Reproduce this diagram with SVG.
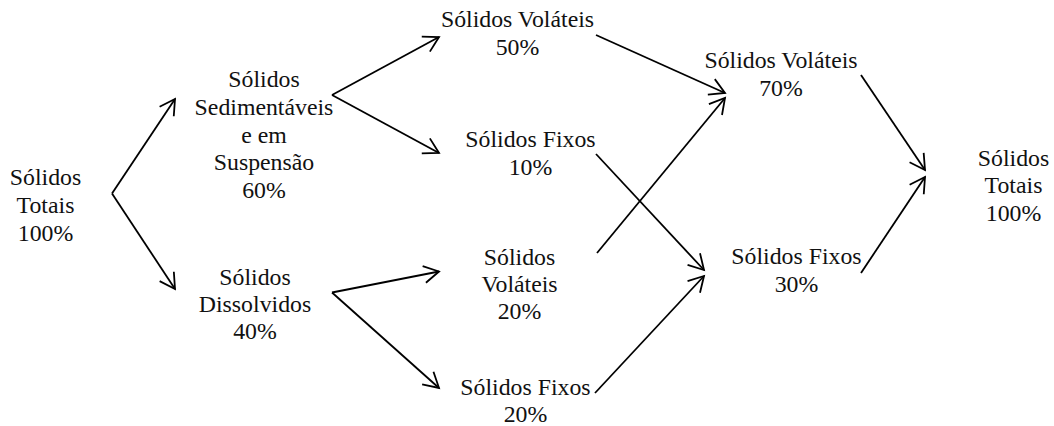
<svg xmlns="http://www.w3.org/2000/svg" width="1054" height="426" viewBox="0 0 1054 426">
<style>
.t text{font-size:23.8px;fill:#111;text-anchor:middle}
.c line{stroke:#000;stroke-width:1.8;fill:none}
</style>
<defs>
<marker id="ah" markerUnits="userSpaceOnUse" markerWidth="40" markerHeight="40" refX="0" refY="0" viewBox="-20 -20 40 40" orient="auto" overflow="visible">
<path d="M-15,-8.5 L0,0 L-15,8.5" fill="none" stroke="#000" stroke-width="1.8" stroke-linejoin="miter"/>
</marker>
</defs>
<rect width="1054" height="426" fill="#fff"/>
<g class="t" font-family="Liberation Serif">
<g id="n-totais-l"><text x="45.5" y="185">Sólidos</text><text x="45.5" y="213">Totais</text><text x="45.5" y="240.5">100%</text></g>
<g id="n-sed"><text x="264" y="87">Sólidos</text><text x="264" y="115">Sedimentáveis</text><text x="264" y="142.5">e em</text><text x="264" y="170">Suspensão</text><text x="264" y="197.5">60%</text></g>
<g id="n-dis"><text x="255" y="285">Sólidos</text><text x="255" y="312">Dissolvidos</text><text x="255" y="339">40%</text></g>
<g id="n-vol50"><text x="517.5" y="27">Sólidos Voláteis</text><text x="517.5" y="55">50%</text></g>
<g id="n-fix10"><text x="530.5" y="147">Sólidos Fixos</text><text x="530.5" y="175">10%</text></g>
<g id="n-vol20"><text x="519.5" y="265">Sólidos</text><text x="519.5" y="292">Voláteis</text><text x="519.5" y="319">20%</text></g>
<g id="n-fix20"><text x="525.5" y="395">Sólidos Fixos</text><text x="525.5" y="422">20%</text></g>
<g id="n-vol70"><text x="781" y="68">Sólidos Voláteis</text><text x="781" y="95.5">70%</text></g>
<g id="n-fix30"><text x="796.5" y="264">Sólidos Fixos</text><text x="796.5" y="292">30%</text></g>
<g id="n-totais-r"><text x="1013.5" y="166">Sólidos</text><text x="1013.5" y="193">Totais</text><text x="1013.5" y="220.5">100%</text></g>
</g>
<g id="connectors" class="c">
<line x1="112" y1="193.5" x2="175" y2="99" marker-end="url(#ah)"/>
<line x1="112" y1="193.5" x2="175" y2="289" marker-end="url(#ah)"/>
<line x1="332" y1="95" x2="439" y2="37" marker-end="url(#ah)"/>
<line x1="332" y1="95" x2="439" y2="153" marker-end="url(#ah)"/>
<line x1="332" y1="292.5" x2="439" y2="271.5" marker-end="url(#ah)"/>
<line x1="332" y1="292.5" x2="439" y2="388" marker-end="url(#ah)"/>
<line x1="596" y1="35" x2="725" y2="93" marker-end="url(#ah)"/>
<line x1="596" y1="154" x2="704" y2="270" marker-end="url(#ah)"/>
<line x1="597" y1="253" x2="725" y2="98" marker-end="url(#ah)"/>
<line x1="595" y1="393" x2="704" y2="276" marker-end="url(#ah)"/>
<line x1="861" y1="75" x2="925" y2="170" marker-end="url(#ah)"/>
<line x1="861" y1="273" x2="925" y2="177" marker-end="url(#ah)"/>
</g>
</svg>
